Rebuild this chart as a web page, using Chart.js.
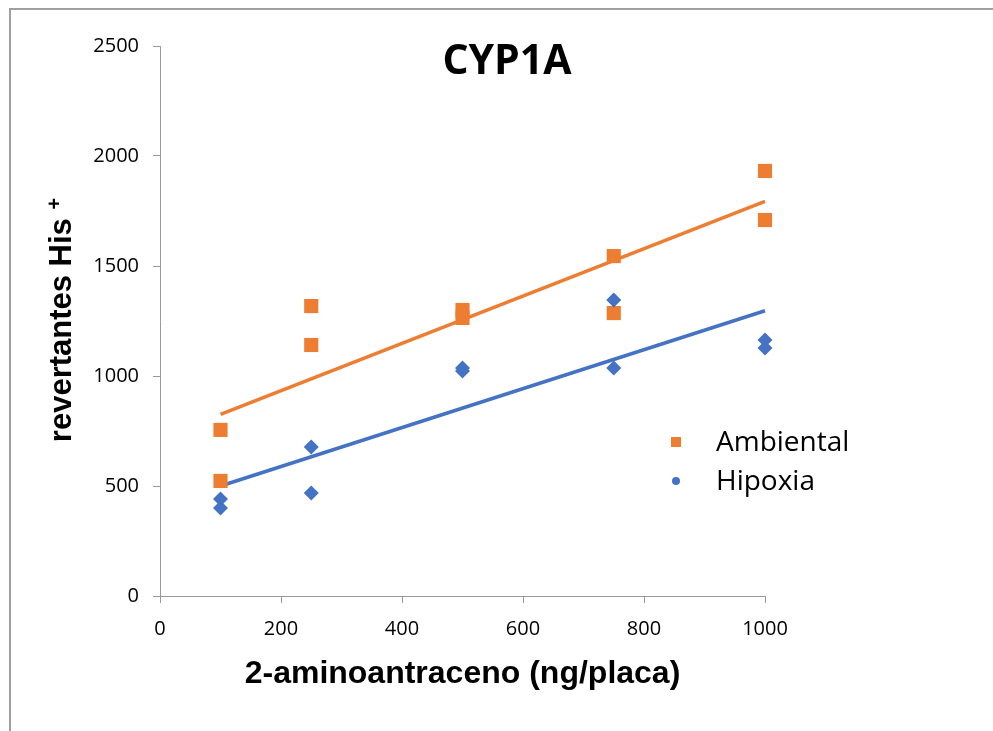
<!DOCTYPE html>
<html>
<head>
<meta charset="utf-8">
<script src="https://cdn.jsdelivr.net/npm/chart.js@4.4.1/dist/chart.umd.min.js"></script>
<style>
  html, body { margin: 0; padding: 0; background: #fff; }
  #wrap { width: 993px; height: 731px; position: relative; }
</style>
</head>
<body>
<div id="wrap"><canvas id="cyp"></canvas></div>
<script>
// datos
const dosis = [100, 100, 250, 250, 500, 500, 750, 750, 1000, 1000];
const ambiental = [755, 523, 1318, 1141, 1300, 1264, 1545, 1286, 1932, 1709];
const hipoxia = [441, 400, 677, 468, 1036, 1023, 1345, 1036, 1164, 1127];
const xTicks = [0, 200, 400, 600, 800, 1000];
const yTicks = [0, 500, 1000, 1500, 2000, 2500];

const naranja = "#ED7D31";
const azul = "#4472C4";

// recta de tendencia (minimos cuadrados)
function tendencia(xs, ys) {
    const n = xs.length;
    const mx = xs.reduce((a, b) => a + b, 0) / n;
    const my = ys.reduce((a, b) => a + b, 0) / n;
    let num = 0, den = 0;
    xs.forEach((x, i) => {
        num += (x - mx) * (ys[i] - my);
        den += (x - mx) * (x - mx);
    });
    const m = num / den;
    const x0 = Math.min(...xs), x1 = Math.max(...xs);
    return [
        { x: x0, y: my + m * (x0 - mx) },
        { x: x1, y: my + m * (x1 - mx) },
    ];
}

const puntos = (ys) => dosis.map((x, i) => ({ x: x, y: ys[i] }));

// titulo, titulos de ejes, leyenda y marco
const extras = {
    id: "extras",
    beforeDraw(chart) {
        const c = chart.ctx;
        c.save();
        c.strokeStyle = "#a0a0a0";
        c.lineWidth = 2;
        c.beginPath();
        c.moveTo(10, 731);
        c.lineTo(10, 9);
        c.lineTo(993, 9);
        c.stroke();
        c.restore();
    },
    afterDraw(chart) {
        const c = chart.ctx;
        const a = chart.chartArea;
        c.save();
        c.fillStyle = "#000";
        c.textAlign = "center";
        c.textBaseline = "middle";

        c.font = "bold 41px 'Open Sans'";
        c.fillText("CYP1A", 507, 62);

        c.font = "bold 32px 'Liberation Sans'";
        c.fillText("2-aminoantraceno (ng/placa)", (a.left + a.right) / 2, 674);

        // titulo eje Y con superindice
        c.save();
        c.translate(62, 320);
        c.rotate(-Math.PI / 2);
        c.textAlign = "left";
        const t = "revertantes His ";
        c.font = "bold 31px 'Liberation Sans'";
        const w1 = c.measureText(t).width;
        c.font = "bold 20px 'Liberation Sans'";
        const w2 = c.measureText("+").width;
        const x0 = -(w1 + w2) / 2;
        c.font = "bold 31px 'Liberation Sans'";
        c.fillText(t, x0, 0);
        c.font = "bold 20px 'Liberation Sans'";
        c.fillText("+", x0 + w1, -7);
        c.restore();

        // leyenda
        c.font = "28px 'Open Sans'";
        c.textAlign = "left";
        const ds = chart.data.datasets;
        c.fillStyle = ds[0].backgroundColor;
        c.fillRect(671, 437, 10, 10);
        c.beginPath();
        c.fillStyle = ds[1].backgroundColor;
        c.arc(676, 481, 4, 0, Math.PI * 2);
        c.fill();
        c.fillStyle = "#000";
        c.fillText(ds[0].label, 716, 443);
        c.fillText(ds[1].label, 716, 482);
        c.restore();
    },
};

const ejeComun = {
    grid: { drawOnChartArea: false, drawTicks: true, tickLength: 7, color: "#999" },
    border: { color: "#999", width: 1 },
};
const fuenteTicks = { family: "'Open Sans'", size: 20 };

new Chart(document.getElementById("cyp"), {
    type: "scatter",
    data: {
        datasets: [
            {
                label: "Ambiental",
                data: puntos(ambiental),
                pointStyle: "rect",
                pointRadius: 10,
                pointHoverRadius: 10,
                backgroundColor: naranja,
                borderColor: naranja,
                borderWidth: 0,
                clip: false,
                order: 2,
            },
            {
                label: "Hipoxia",
                data: puntos(hipoxia),
                pointStyle: "rectRot",
                pointRadius: 7.5,
                pointHoverRadius: 7.5,
                backgroundColor: azul,
                borderColor: azul,
                borderWidth: 0,
                clip: false,
                order: 1,
            },
            {
                label: "tend-amb",
                type: "line",
                data: tendencia(dosis, ambiental),
                borderColor: naranja,
                borderWidth: 3.5,
                pointRadius: 0,
                fill: false,
                clip: false,
                order: 3,
            },
            {
                label: "tend-hip",
                type: "line",
                data: tendencia(dosis, hipoxia),
                borderColor: azul,
                borderWidth: 3.5,
                pointRadius: 0,
                fill: false,
                clip: false,
                order: 3,
            },
        ],
    },
    options: {
        responsive: true,
        maintainAspectRatio: false,
        animation: false,
        layout: { padding: { left: 0, top: 46, right: 228, bottom: 0 } },
        plugins: { legend: { display: false }, tooltip: { enabled: false } },
        scales: {
            x: {
                ...ejeComun,
                type: "linear",
                min: 0,
                max: 1000,
                afterBuildTicks: (s) => { s.ticks = xTicks.map((v) => ({ value: v })); },
                afterFit: (s) => { s.height = 135; },
                ticks: { padding: 14, color: "#000", font: fuenteTicks, callback: (v) => String(v) },
            },
            y: {
                ...ejeComun,
                min: 0,
                max: 2500,
                afterBuildTicks: (s) => { s.ticks = yTicks.map((v) => ({ value: v })); },
                afterFit: (s) => { s.width = 160; },
                ticks: { padding: 14, color: "#000", font: fuenteTicks, callback: (v) => String(v) },
            },
        },
    },
    plugins: [extras],
});
</script>
</body>
</html>
